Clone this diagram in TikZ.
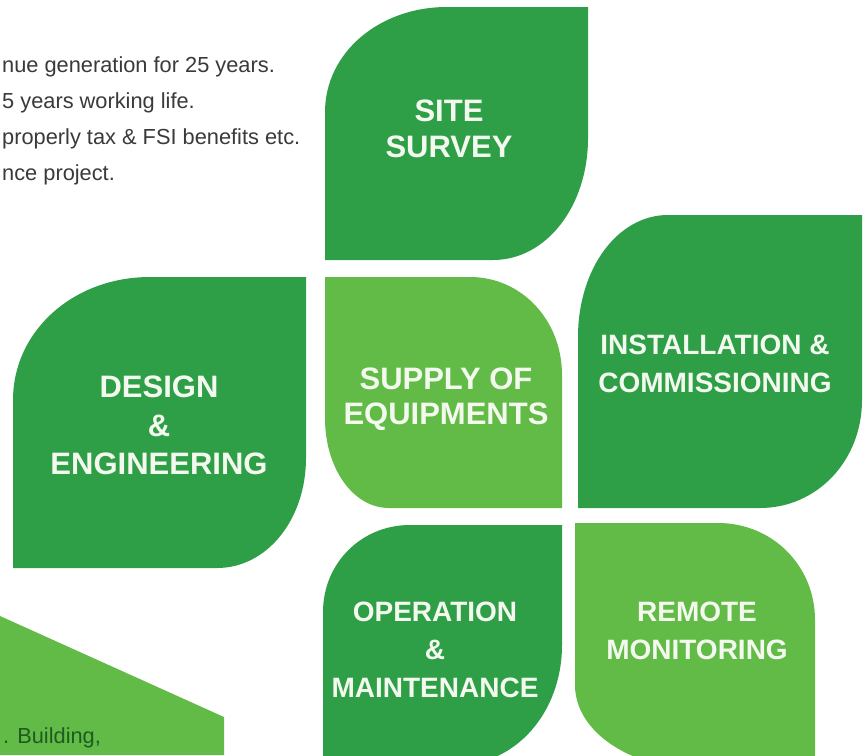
\documentclass[tikz,border=0pt]{standalone}
\usepackage{fontspec}
\setmainfont{Liberation Sans}
\definecolor{leafdark}{HTML}{2E9F47}
\definecolor{leaflight}{HTML}{62BB46}
\definecolor{leaftext}{HTML}{F3F9EE}
\definecolor{bodytext}{HTML}{3A3A3A}
\definecolor{addrtext}{HTML}{1F5A22}
% leaf with rounded top-left and bottom-right corners
% #1 fill, #2 x1, #3 y1, #4 x2, #5 y2, #6 tl rx, #7 tl ry, #8 br rx, #9 br ry
\newcommand\leafTLBR[9]{%
  \fill[#1] (#2,{#3+#7}) .. controls (#2,{#3+#7*0.44}) and ({#2+#6*0.44},#3) .. ({#2+#6},#3)
    -- (#4,#3) -- (#4,{#5-#9}) .. controls (#4,{#5-#9*0.44}) and ({#4-#8*0.44},#5) .. ({#4-#8},#5)
    -- (#2,#5) -- cycle;}
% leaf with rounded top-right and bottom-left corners
% #1 fill, #2 x1, #3 y1, #4 x2, #5 y2, #6 tr rx, #7 tr ry, #8 bl rx, #9 bl ry
\newcommand\leafTRBL[9]{%
  \fill[#1] (#2,#3) -- ({#4-#6},#3) .. controls ({#4-#6*0.44},#3) and (#4,{#3+#7*0.44}) .. (#4,{#3+#7})
    -- (#4,#5) -- ({#2+#8},#5) .. controls ({#2+#8*0.44},#5) and (#2,{#5-#9*0.44}) .. (#2,{#5-#9})
    -- cycle;}
\begin{document}
\begin{tikzpicture}[x=1pt,y=-1pt,
  lbl/.style={text=leaftext, align=center, inner sep=0pt},
  bigl/.style={lbl, font=\fontsize{31}{36}\selectfont\bfseries},
  midl/.style={lbl, font=\fontsize{28}{38}\selectfont\bfseries},
  body/.style={text=bodytext, inner sep=0pt, anchor=base west, font=\fontsize{21.8}{26}\selectfont}]
\useasboundingbox (0,0) rectangle (866,755);
\fill[white] (0,0) rectangle (866,755);
\begin{scope}
\clip (0,0) rectangle (866,755);
\leafTLBR{leafdark}{325}{7}{588}{260}{122}{105}{95}{122}
\leafTLBR{leafdark}{13}{277}{306}{568}{137}{123}{89}{110}
\leafTRBL{leaflight}{325}{277}{562}{508}{92}{98}{64}{90}
\leafTLBR{leafdark}{578}{215}{862}{508}{90}{122}{102}{108}
\leafTLBR{leafdark}{323}{525}{562}{765}{87}{87}{105}{120}
\leafTRBL{leaflight}{575}{523}{815}{770}{97}{97}{130}{85}
\fill[leaflight] (0,616) -- (224,717) -- (224,755) -- (0,755) -- cycle;
\end{scope}
\node[bigl] (site) at (449,129) {SITE\\SURVEY};
\node[bigl, font=\fontsize{31}{38.5}\selectfont\bfseries] (design) at (159,425.5) {DESIGN\\\&\\ENGINEERING};
\node[bigl, font=\fontsize{31}{35}\selectfont\bfseries] (supply) at (446,399.5) {SUPPLY OF\\EQUIPMENTS};
\node[midl] (install) at (715,364) {INSTALLATION \&\\COMMISSIONING};
\node[midl] (operation) at (435,650) {OPERATION\\\&\\MAINTENANCE};
\node[midl] (remote) at (697,631) {REMOTE\\MONITORING};
\node[body] (t1) at (2,72) {nue generation for 25 years.};
\node[body] (t2) at (2,108) {5 years working life.};
\node[body] (t3) at (2,144) {properly tax \& FSI benefits etc.};
\node[body] (t4) at (2,180) {nce project.};
\node[body, text=addrtext] (addr) at (3,743) {. Building,};
\end{tikzpicture}
\end{document}
